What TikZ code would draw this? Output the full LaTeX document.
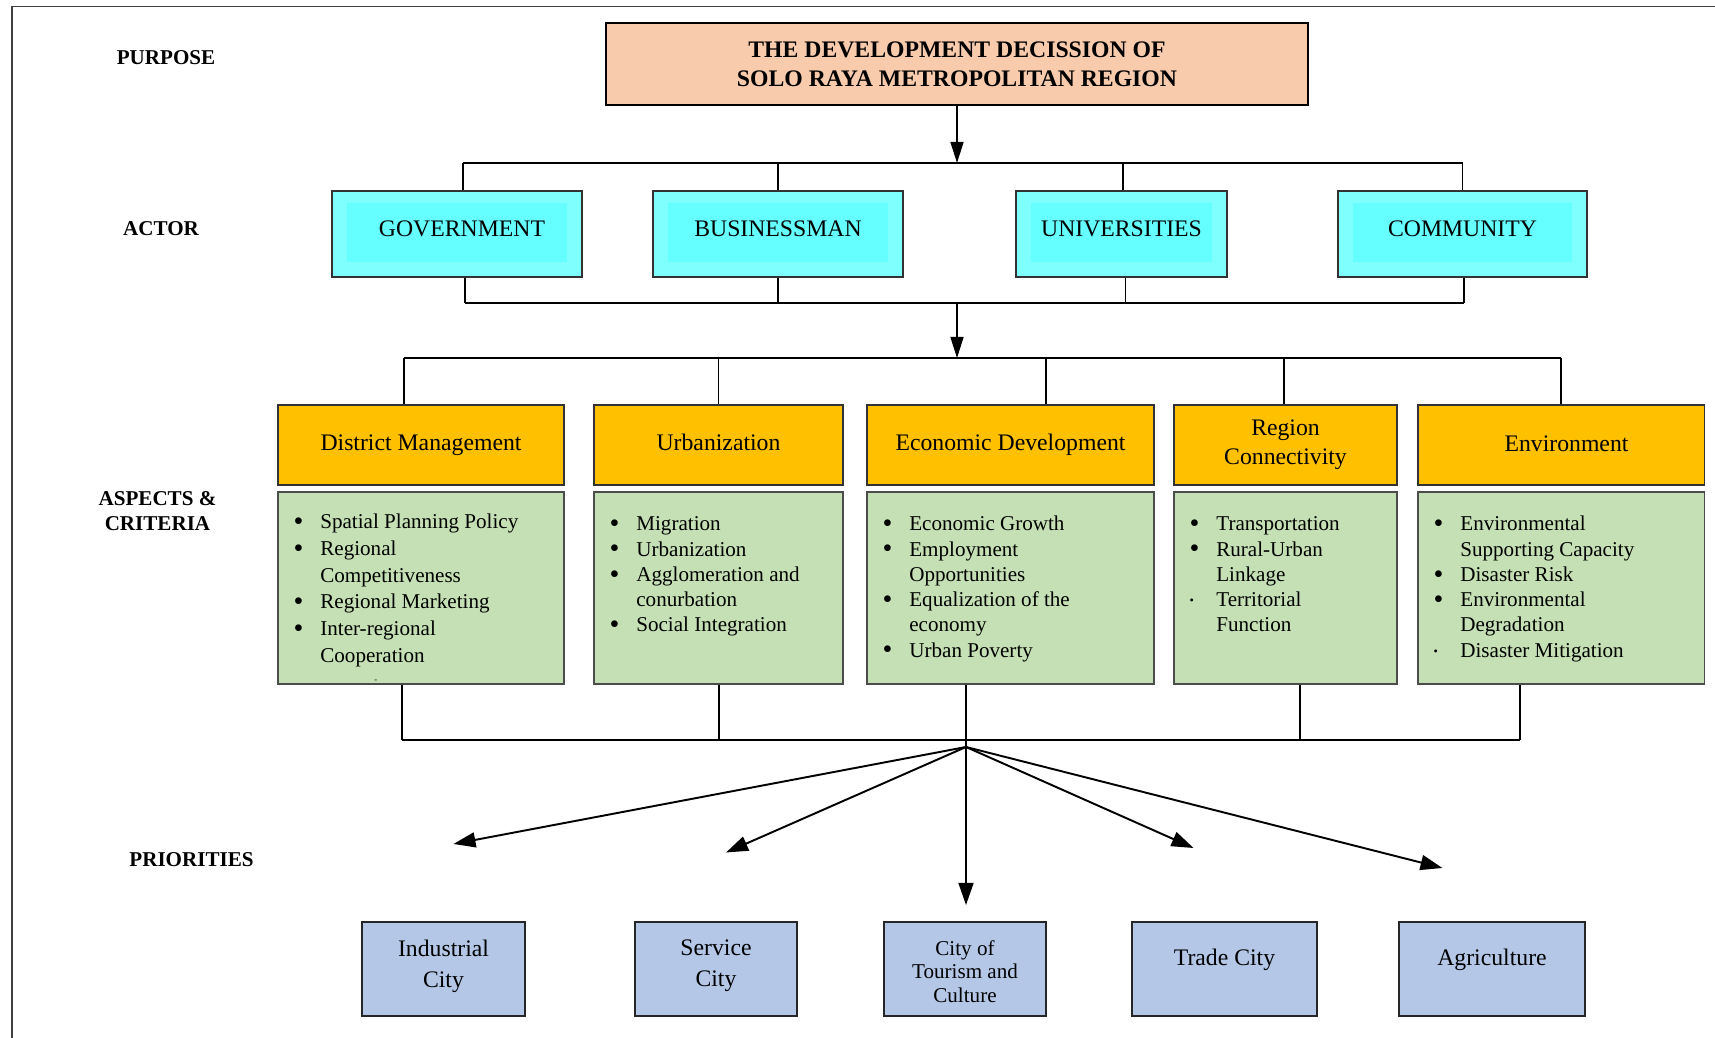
\documentclass[tikz,border=0pt]{standalone}
\usepackage{fontspec}
\setmainfont{Liberation Serif}
\usetikzlibrary{arrows.meta}
\definecolor{purposefill}{HTML}{F8CBAD}
\definecolor{actorout}{HTML}{80FFFF}
\definecolor{actorin}{HTML}{66FFFF}
\definecolor{aspectfill}{HTML}{FFC000}
\definecolor{critfill}{HTML}{C5E0B4}
\definecolor{priofill}{HTML}{B4C7E7}
\newcommand{\critlist}[3][0.42cm]{\parbox[c][3.84cm][t]{#2}{\vspace*{#1}%
  \begin{tabular}[t]{@{\hspace{0.31cm}}l@{\hspace{0.34cm}}l@{}}#3\end{tabular}}}
\newcommand{\priotext}[2]{\parbox[c][1.88cm][t]{3.2cm}{\centering\vspace*{#1}#2}}
\newcommand{\bul}{\raisebox{-1pt}{\fontsize{16}{16}\selectfont\textbullet}}
\newcommand{\smallbul}{\raisebox{1pt}{\scriptsize\textbullet}}
\tikzset{
  frame/.style={draw=black!75, line width=1pt},
  levellabel/.style={font=\fontsize{12}{14.3}\selectfont\bfseries},
  purposebox/.style={draw=black, line width=0.7pt, fill=purposefill, minimum width=14.04cm, minimum height=1.64cm, align=center, font=\fontsize{13.5}{16.7}\selectfont\bfseries},
  actorbox/.style={draw=black!80, line width=0.6pt, fill=actorout, minimum height=1.72cm, text depth=0.2cm, font=\fontsize{13.5}{15.5}\selectfont,
    path picture={\fill[actorin] ([xshift=0.3cm,yshift=-0.24cm]path picture bounding box.north west) rectangle ([xshift=-0.3cm,yshift=0.3cm]path picture bounding box.south east);}},
  aspecthead/.style={draw=black!80, line width=0.6pt, fill=aspectfill, minimum height=1.60cm, align=center, font=\fontsize{13.5}{15.5}\selectfont},
  critbox/.style={draw=black!70, line width=0.6pt, fill=critfill, inner sep=0pt, font=\fontsize{12}{14.4}\selectfont},
  priobox/.style={draw=black!85, line width=0.7pt, fill=priofill, minimum height=1.88cm, inner sep=0pt, font=\fontsize{13.5}{17.4}\selectfont},
  busline/.style={draw=black, line width=1.2pt},
  dropline/.style={draw=black, line width=0.8pt},
  flowarrow/.style={draw=black, line width=0.9pt, -{Triangle[length=0.42cm,width=0.26cm]}},
  fanarrow/.style={draw=black, line width=1.1pt, -{Triangle[length=0.44cm,width=0.3cm]}},
}

\begin{document}
\begin{tikzpicture}
\useasboundingbox (0,0) rectangle (34.30,20.76);
\draw[frame] (0.24,0) -- (0.24,20.63) -- (34.30,20.63);

% level labels
\node[levellabel] (lpurpose) at (3.32,19.60) {PURPOSE};
\node[levellabel] (lactor) at (3.22,16.18) {ACTOR};
\node[levellabel, align=center] (laspect) at (3.15,10.54) {ASPECTS \&\\CRITERIA};
\node[levellabel] (lprio) at (3.83,3.57) {PRIORITIES};

% purpose
\node[purposebox] (purpose) at (19.14,19.48) {THE DEVELOPMENT DECISSION OF\\SOLO RAYA METROPOLITAN REGION};

% actors
\node[actorbox, minimum width=5.00cm] (gov) at (9.14,16.08) {\hspace*{0.2cm}GOVERNMENT};
\node[actorbox, minimum width=5.00cm] (biz) at (15.56,16.08) {BUSINESSMAN};
\node[actorbox, minimum width=4.22cm] (uni) at (22.43,16.08) {UNIVERSITIES};
\node[actorbox, minimum width=4.98cm] (com) at (29.25,16.08) {COMMUNITY};

\coordinate (actin) at (19.14,17.50);
\coordinate (actout) at (19.14,14.70);
\draw[flowarrow] (purpose) -- (actin);
\foreach \n/\dx/\ex in {gov/0.12/0.16,biz/0/0,uni/0.03/0.08,com/0/0.03} {
  \coordinate (top\n) at ([xshift=\dx cm]\n.north);
  \coordinate (bot\n) at ([xshift=\ex cm]\n.south);
  \draw[dropline] (top\n) -- (top\n |- actin);
  \draw[dropline] (bot\n) -- (bot\n |- actout);
}
\draw[busline] (topgov |- actin) -- (topcom |- actin);
\draw[busline] (botgov |- actout) -- (botcom |- actout);

% aspects
\coordinate (aspin) at (19.14,13.60);
\draw[flowarrow] (actout) -- (aspin);
\node[aspecthead, minimum width=5.72cm] (dm) at (8.42,11.86) {District Management};
\node[aspecthead, minimum width=4.98cm, text depth=0.09cm] (urb) at (14.37,11.86) {Urbanization};
\node[aspecthead, minimum width=5.74cm] (eco) at (20.21,11.86) {Economic Development};
\node[aspecthead, minimum width=4.46cm, font=\fontsize{13.5}{16.3}\selectfont] (reg) at (25.71,11.86) {Region\\Connectivity};
\node[aspecthead, minimum width=5.72cm, text depth=0.05cm] (env) at (31.22,11.86) {\hspace*{0.22cm}Environment};
\foreach \n/\dx in {dm/-0.34,urb/0,eco/0.71,reg/-0.03,env/0} {
  \coordinate (top\n) at ([xshift=\dx cm]\n.north);
  \draw[dropline] (top\n) -- (top\n |- aspin);
}
\draw[busline] (topdm |- aspin) -- (topenv |- aspin);

% criteria
\node[critbox, font=\fontsize{12}{15.2}\selectfont] (dmc) at (8.42,9.00) {\critlist[0.36cm]{5.72cm}{%
  \bul & Spatial Planning Policy\\
  \bul & Regional\\
  & Competitiveness\\
  \bul & Regional Marketing\\
  \bul & Inter-regional\\
  & Cooperation\\[-0.12cm]
  & \hspace{1.08cm}{\tiny -}}};
\node[critbox] (urbc) at (14.37,9.00) {\critlist{4.98cm}{%
  \bul & Migration\\
  \bul & Urbanization\\
  \bul & Agglomeration and\\
  & conurbation\\
  \bul & Social Integration}};
\node[critbox] (ecoc) at (20.21,9.00) {\critlist{5.74cm}{%
  \bul & Economic Growth\\
  \bul & Employment\\
  & Opportunities\\
  \bul & Equalization of the\\
  & economy\\
  \bul & Urban Poverty}};
\node[critbox] (regc) at (25.71,9.00) {\critlist{4.46cm}{%
  \bul & Transportation\\
  \bul & Rural-Urban\\
  & Linkage\\
  \smallbul & Territorial\\
  & Function}};
\node[critbox] (envc) at (31.22,9.00) {\critlist{5.72cm}{%
  \bul & Environmental\\
  & Supporting Capacity\\
  \bul & Disaster Risk\\
  \bul & Environmental\\
  & Degradation\\
  \smallbul & Disaster Mitigation}};

\coordinate (critout) at (19.32,5.96);
\foreach \n/\dx in {dmc/-0.38,urbc/0.01,ecoc/-0.89,regc/0.29,envc/-0.82} {
  \coordinate (bot\n) at ([xshift=\dx cm]\n.south);
  \draw[dropline] (bot\n) -- (bot\n |- critout);
}
\draw[busline] (botdmc |- critout) -- (botenvc |- critout);

% priorities
\coordinate (hub) at (19.32,5.82);
\coordinate (tind) at (9.07,3.88);
\coordinate (tser) at (14.52,3.71);
\coordinate (tcen) at (19.32,2.66);
\coordinate (ttra) at (23.87,3.80);
\coordinate (tagr) at (28.85,3.40);
\foreach \t in {tind,tser,ttra,tagr}
  \draw[fanarrow] (hub) -- (\t);
\draw[fanarrow, line width=0.8pt] (critout) -- (tcen);

\node[priobox, minimum width=3.26cm] (ind) at (8.87,1.38) {\priotext{0.36cm}{Industrial\\City}};
\node[priobox, minimum width=3.24cm] (ser) at (14.32,1.38) {\priotext{0.36cm}{Service\\City}};
\node[priobox, minimum width=3.24cm, font=\fontsize{12}{13.4}\selectfont] (tou) at (19.30,1.38) {\priotext{0.37cm}{City of\\Tourism and\\Culture}};
\node[priobox, minimum width=3.70cm] (tra) at (24.49,1.38) {\priotext{0.54cm}{Trade City}};
\node[priobox, minimum width=3.72cm] (agr) at (29.84,1.38) {\priotext{0.54cm}{Agriculture}};
\end{tikzpicture}
\end{document}
